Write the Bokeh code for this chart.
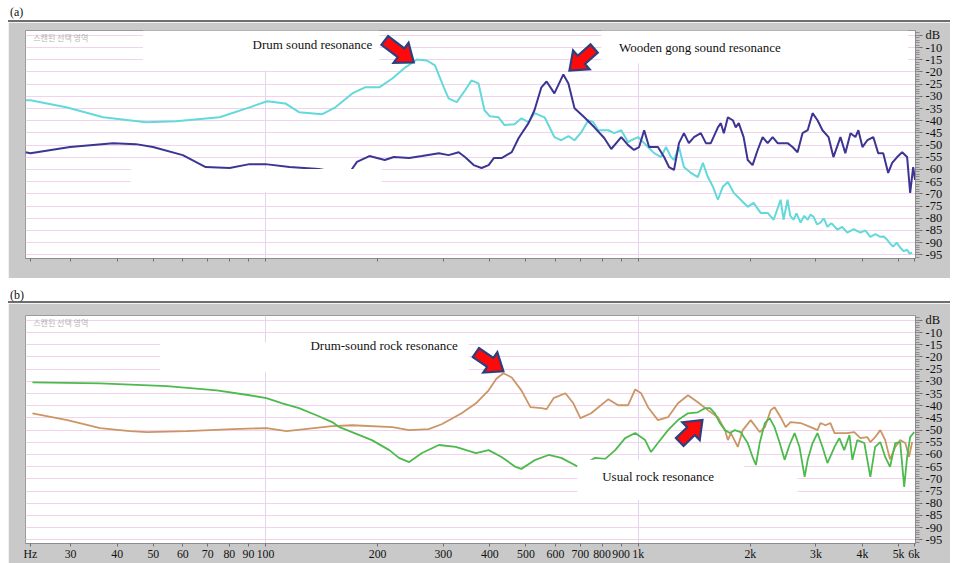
import math
from bokeh.plotting import figure
from bokeh.models import Range1d, FixedTicker, Label, Div, BoxAnnotation
from bokeh.layouts import column
from bokeh.embed import file_html
from bokeh.resources import INLINE

# ---------------- data ----------------
# Panel (a): drum (cyan) and wooden gong (navy) spectra, frequency in Hz, level in dB
drum_f = [22.7, 23.4, 29.2, 36.7, 47.8, 57.5, 75.3, 92.3, 101, 113, 123, 142, 154, 171, 185, 202, 219, 237,
          255, 271, 285, 301, 310, 326, 343, 357, 373, 387, 400, 422, 438, 466, 486, 508, 527, 561, 596, 622,
          650, 675, 704, 735, 758, 782, 832, 863, 901, 940, 958, 1000, 1063, 1104, 1152, 1188, 1225, 1248,
          1287, 1327, 1386, 1446, 1492, 1539, 1588, 1637, 1687, 1741, 1806, 1884, 1968, 2041, 2132, 2226,
          2310, 2412, 2456, 2518, 2560, 2612, 2660, 2729, 2790, 2851, 2900, 2958, 3020, 3085, 3150, 3221,
          3300, 3426, 3530, 3640, 3790, 3948, 4070, 4199, 4330, 4465, 4560, 4660, 4750, 4836, 4940, 5048,
          5160, 5270, 5350, 5437]
drum_db = [-31.6, -31.6, -34.5, -38.6, -40.6, -40.2, -38.6, -34.1, -32.0, -32.9, -36.5, -37.3, -34.5, -28.8,
           -26.3, -26.3, -22.7, -18.2, -14.9, -15.3, -17.3, -26.3, -30.8, -32.4, -27.6, -23.5, -24.7, -35.7,
           -38.2, -38.6, -41.8, -41.4, -39.0, -40.6, -36.9, -38.6, -46.7, -48.0, -46.3, -48.0, -44.7, -39.8,
           -40.6, -43.9, -43.9, -45.1, -43.9, -48.8, -48.0, -46.7, -50.8, -53.3, -54.9, -50.8, -54.9, -56.1,
           -50.8, -59.0, -61.4, -63.1, -57.3, -63.1, -67.1, -72.4, -67.1, -65.1, -69.6, -72.4, -75.3, -73.7,
           -77.8, -77.8, -80.6, -72.4, -80.6, -72.4, -79.0, -80.6, -78.0, -81.8, -79.0, -80.6, -78.5, -79.4,
           -82.5, -81.8, -80.0, -83.5, -82.0, -84.7, -83.5, -85.9, -84.5, -85.9, -85.0, -87.6, -86.5, -87.6,
           -87.5, -88.8, -90.5, -91.6, -90.0, -92.0, -93.5, -92.9, -94.5, -94.1]

gong_f = [22.7, 23.4, 29.9, 39.0, 44.9, 49.9, 60.0, 69.1, 80.1, 90.6, 100, 116, 139, 154, 170, 176, 190, 209,
          221, 243, 263, 292, 310, 330, 343, 362, 380, 397, 410, 430, 458, 478, 508, 527, 550, 568, 596, 630,
          650, 675, 717, 763, 811, 847, 901, 940, 975, 1006, 1038, 1070, 1130, 1174, 1210, 1248, 1287, 1327,
          1368, 1412, 1473, 1520, 1567, 1637, 1667, 1698, 1741, 1795, 1828, 1862, 1919, 1968, 2028, 2093,
          2158, 2226, 2296, 2368, 2441, 2518, 2596, 2678, 2761, 2851, 2938, 3029, 3124, 3243, 3342, 3491,
          3597, 3714, 3828, 3899, 3999, 4122, 4276, 4407, 4547, 4688, 4805, 4955, 5111, 5270, 5370, 5471, 5535]
gong_db = [-52.9, -53.3, -50.8, -49.2, -49.6, -50.8, -54.1, -59.0, -59.4, -57.8, -57.8, -59.0, -59.8, -61.0,
           -60.2, -56.9, -54.5, -56.1, -54.9, -55.3, -54.5, -53.3, -54.1, -52.9, -54.9, -58.2, -59.4, -58.2,
           -55.3, -55.3, -52.9, -47.1, -41.0, -35.7, -26.3, -23.9, -28.8, -21.0, -24.7, -34.9, -38.6, -42.7,
           -47.1, -51.6, -46.7, -50.0, -52.0, -50.8, -43.9, -50.8, -50.8, -54.9, -59.0, -60.2, -49.2, -45.1,
           -49.2, -46.7, -45.1, -49.2, -49.2, -42.7, -41.0, -45.1, -38.6, -39.8, -42.7, -41.0, -46.7, -56.1,
           -58.2, -52.0, -46.7, -49.2, -46.7, -49.2, -49.2, -49.2, -50.8, -52.9, -45.1, -43.9, -36.9, -39.8,
           -43.9, -46.7, -54.9, -46.7, -53.3, -45.1, -46.7, -43.9, -50.8, -48.0, -46.7, -53.3, -53.3, -61.4,
           -57.3, -54.9, -52.9, -54.9, -69.6, -59.0, -64.3]

# Panel (b): drum-sound rock (orange) and usual rock (green)
drumrock_f = [23.7, 29.4, 36.0, 43.3, 48.1, 61.5, 81.6, 100.6, 114, 151, 171, 219, 243, 274, 297, 336, 367,
              397, 417, 435, 458, 486, 514, 550, 568, 593, 638, 670, 700, 748, 832, 884, 940, 982, 1019, 1063,
              1130, 1203, 1279, 1361, 1446, 1539, 1637, 1710, 1741, 1774, 1851, 1909, 2005, 2119, 2188, 2269,
              2323, 2412, 2488, 2565, 2729, 2904, 3029, 3085, 3184, 3281, 3365, 3491, 3640, 3802, 3948, 4122,
              4199, 4325, 4465, 4603, 4742, 4898, 5048, 5212, 5333, 5437]
drumrock_db = [-43.1, -45.9, -49.2, -50.4, -50.8, -50.4, -49.6, -49.2, -50.4, -48.4, -48.0, -48.8, -50.0,
               -49.6, -47.6, -43.1, -39.0, -33.7, -28.8, -26.7, -28.4, -33.7, -40.6, -41.0, -41.4, -36.9,
               -34.9, -39.0, -45.1, -43.1, -37.3, -39.8, -39.8, -33.3, -34.9, -40.6, -45.9, -44.7, -39.0,
               -35.7, -38.6, -41.8, -44.7, -50.0, -54.1, -51.2, -56.9, -50.0, -45.9, -50.8, -48.8, -41.8,
               -40.6, -44.7, -48.8, -46.7, -47.1, -48.8, -50.0, -47.1, -48.0, -47.1, -51.2, -51.2, -51.2,
               -50.8, -53.3, -52.9, -54.9, -52.9, -50.0, -54.1, -62.0, -56.9, -54.1, -55.3, -61.0, -54.9]

usualrock_f = [23.7, 36.0, 54.4, 74.0, 90.6, 100.6, 111, 123, 137, 151, 158, 193, 215, 228, 243, 263, 292,
               324, 367, 397, 430, 469, 486, 530, 575, 622, 692, 767, 816, 868, 923, 982, 1044, 1083, 1130,
               1203, 1279, 1361, 1446, 1511, 1559, 1607, 1657, 1710, 1762, 1817, 1884, 1968, 2028, 2070, 2119,
               2188, 2254, 2323, 2399, 2472, 2548, 2630, 2710, 2798, 2851, 2938, 3029, 3124, 3221, 3365, 3467,
               3573, 3690, 3758, 3873, 4046, 4199, 4325, 4465, 4603, 4742, 4898, 5048, 5176, 5270, 5370, 5508]
usualrock_db = [-30.4, -30.8, -32.0, -33.7, -35.7, -36.9, -39.0, -41.0, -43.9, -46.7, -48.8, -54.1, -58.2,
                -61.4, -63.1, -59.4, -56.1, -56.9, -59.4, -58.2, -61.0, -65.1, -65.9, -62.2, -60.2, -61.4,
                -65.1, -61.4, -61.8, -58.2, -53.3, -51.2, -54.1, -59.0, -55.3, -50.0, -45.9, -43.1, -42.7,
                -41.0, -41.0, -43.1, -47.1, -50.0, -51.2, -50.0, -50.8, -55.3, -61.0, -64.3, -55.3, -47.1,
                -45.1, -48.8, -55.3, -62.2, -56.1, -51.2, -56.9, -69.2, -62.2, -55.3, -51.2, -56.9, -63.5,
                -56.9, -53.3, -58.2, -52.0, -62.2, -54.1, -55.3, -69.2, -56.9, -54.9, -61.0, -65.1, -55.3,
                -54.9, -73.3, -61.0, -52.9, -50.8]

# axes
F_MIN, F_MAX = 22.7, 5550
DB_MIN, DB_MAX = -96.5, -3.0
freq_ticks = [23.4, 30, 40, 50, 60, 70, 80, 90, 100, 200, 300, 400, 500, 600, 700, 800, 900,
              1000, 2000, 3000, 4000, 5000, 5500]
freq_tick_labels = ["Hz", "30", "40", "50", "60", "70", "80", "90", "100", "200", "300", "400", "500",
                    "600", "700", "800", "900", "1k", "2k", "3k", "4k", "5k", "6k"]
db_ticks = list(range(-5, -100, -5))
db_tick_labels = ["dB"] + [str(t) for t in db_ticks[1:]]

# annotations: (text, freq, dB)
labels_a = [("Drum sound resonance", 92.3, -8.8), ("Wooden gong sound resonance", 888, -10.0)]
labels_b = [("Drum-sound rock resonance", 132, -15.3), ("Usual rock resonance", 801, -69.2)]
# arrows: (tail freq, tail dB, tip freq, tip dB)
arrows_a = [(209, -7.1, 250, -16.1), (762, -10.4, 654, -19.4)]
arrows_b = [(367, -18.2, 435, -25.9), (1293, -54.9, 1488, -45.9)]
# white cover boxes: (left f, right f, bottom dB, top dB)
boxes_a = [(46.9, 202, -19.4, -3.0), (797, 5300, -16.5, -3.0), (43.5, 205, -69.2, -59.8)]
boxes_b = [(52.1, 351, -26.3, -14.1), (687, 1920, -78.6, -62.2), (1920, 2677, -78.6, -69.5)]

GRAY = "#c9c9c9"
SERIF = "Liberation Serif"
NAVY_EDGE = "#2c3f7f"
RED = "#ff0a0a"
FIG_W = 942
FIG_X = 8


def make_panel(height, left, right, top, bottom, show_x_labels):
    p = figure(width=FIG_W, height=height, x_axis_type="log", y_axis_location="right",
               x_range=Range1d(F_MIN, F_MAX), y_range=Range1d(DB_MIN, DB_MAX),
               output_backend="svg", toolbar_location=None, margin=(0, 0, 0, FIG_X),
               min_border_left=left, min_border_right=right, min_border_top=top, min_border_bottom=bottom,
               border_fill_color=GRAY, background_fill_color="white", outline_line_color="#9a9a9a")
    p.xgrid.ticker = FixedTicker(ticks=[100, 1000])
    p.xgrid.grid_line_color = "#e3d3f0"
    p.ygrid.ticker = FixedTicker(ticks=db_ticks)
    p.ygrid.grid_line_color = "#f1d3ec"

    yax = p.yaxis[0]
    yax.ticker = FixedTicker(ticks=db_ticks, minor_ticks=list(range(-96, -3)))
    yax.major_label_overrides = {t: l for t, l in zip(db_ticks, db_tick_labels)}
    yax.axis_line_color = "#8c8c8c"
    yax.major_tick_line_color = "#6f6f6f"
    yax.minor_tick_line_color = "#8c8c8c"
    yax.major_tick_in = 0
    yax.minor_tick_in = 0
    yax.major_tick_out = 7
    yax.minor_tick_out = 4
    yax.major_label_standoff = 3
    yax.major_label_text_font = SERIF
    yax.major_label_text_font_size = "12.5px"
    yax.major_label_text_color = "#111111"

    xax = p.xaxis[0]
    xax.ticker = FixedTicker(ticks=freq_ticks, minor_ticks=[])
    if show_x_labels:
        xax.major_label_overrides = {t: l for t, l in zip(freq_ticks, freq_tick_labels)}
    else:
        xax.major_label_overrides = {t: "" for t in freq_ticks}
    xax.axis_line_color = "#8c8c8c"
    xax.major_tick_line_color = "#6f6f6f"
    xax.major_tick_in = 0
    xax.major_tick_out = 3
    xax.major_label_standoff = 0
    xax.major_label_text_font = SERIF
    xax.major_label_text_font_size = "11.8px"
    xax.major_label_text_color = "#111111"

    p.add_layout(Label(x=23.8, y=-5.8, text="스캔된 선택 영역", text_font="Noto Sans CJK KR",
                       text_font_size="8px", text_color="#b4b4b4", text_baseline="middle"))
    return p


def block_arrow(p, tail, tip, plot_w, plot_h):
    """Block arrow from tail to tip; its outline is laid out in pixels along the arrow and mapped
    back through the log-frequency / dB scales of the panel."""
    sx = plot_w / math.log10(F_MAX / F_MIN)      # px per decade
    sy = plot_h / (DB_MAX - DB_MIN)              # px per dB
    X0, Y0 = math.log10(tail[0]) * sx, tail[1] * sy
    X1, Y1 = math.log10(tip[0]) * sx, tip[1] * sy
    L = math.hypot(X1 - X0, Y1 - Y0)
    ux, uy = (X1 - X0) / L, (Y1 - Y0) / L
    vx, vy = -uy, ux
    shaft, head, head_len = 5.5, 12.5, 16.0
    local = [(0, -shaft), (L - head_len, -shaft), (L - head_len, -head), (L, 0),
             (L - head_len, head), (L - head_len, shaft), (0, shaft)]
    xs, ys = [], []
    for a, b in local:
        X = X0 + a * ux + b * vx
        Y = Y0 + a * uy + b * vy
        xs.append(10 ** (X / sx))
        ys.append(Y / sy)
    p.patch(xs, ys, fill_color=RED, line_color=NAVY_EDGE, line_width=2.2, line_join="miter",
            level="overlay")


def decorate(p, boxes, labels, arrows, plot_w, plot_h):
    for l, r, b, t in boxes:
        p.add_layout(BoxAnnotation(left=l, right=r, bottom=b, top=t, fill_color="white", fill_alpha=1.0,
                                   line_alpha=0))
    for txt, fx, dbv in labels:
        p.add_layout(Label(x=fx, y=dbv, text=txt, text_font=SERIF, text_font_size="13px",
                           text_color="#111111", text_baseline="middle"))
    for x0, y0, x1, y1 in arrows:
        block_arrow(p, (x0, y0), (x1, y1), plot_w, plot_h)


A_H, A_L, A_R, A_T, A_B = 256, 14, 35, 8, 20
pa = make_panel(A_H, A_L, A_R, A_T, A_B, False)
pa.line(drum_f, drum_db, line_color="#63d9dc", line_width=2)
pa.line(gong_f, gong_db, line_color="#3c3592", line_width=2)
decorate(pa, boxes_a, labels_a, arrows_a, FIG_W - A_L - A_R, A_H - A_T - A_B)

B_H, B_L, B_R, B_T, B_B = 260, 17, 32, 12, 18
pb = make_panel(B_H, B_L, B_R, B_T, B_B, True)
pb.line(drumrock_f, drumrock_db, line_color="#cc9565", line_width=1.8)
pb.line(usualrock_f, usualrock_db, line_color="#4dba4d", line_width=1.8)
decorate(pb, boxes_b, labels_b, arrows_b, FIG_W - B_L - B_R, B_H - B_T - B_B)

div_style = {"font-family": SERIF, "font-size": "12px", "color": "#111111"}
div_a = Div(text='<div style="height:20px;line-height:12px;padding:6px 0 0 10px;box-sizing:border-box">(a)</div>'
                 '<div style="height:2px;margin-left:8px;width:942px;background:#6e6e6e"></div>',
            width=953, height=22, margin=0, styles=div_style)
div_b = Div(text='<div style="height:23px;line-height:12px;padding:11px 0 0 10px;box-sizing:border-box">(b)</div>'
                 '<div style="height:2px;margin-left:8px;width:942px;background:#6e6e6e"></div>',
            width=953, height=25, margin=0, styles=div_style)

layout = column(div_a, pa, div_b, pb, spacing=0)
open("out.html", "w").write(file_html(layout, INLINE))
